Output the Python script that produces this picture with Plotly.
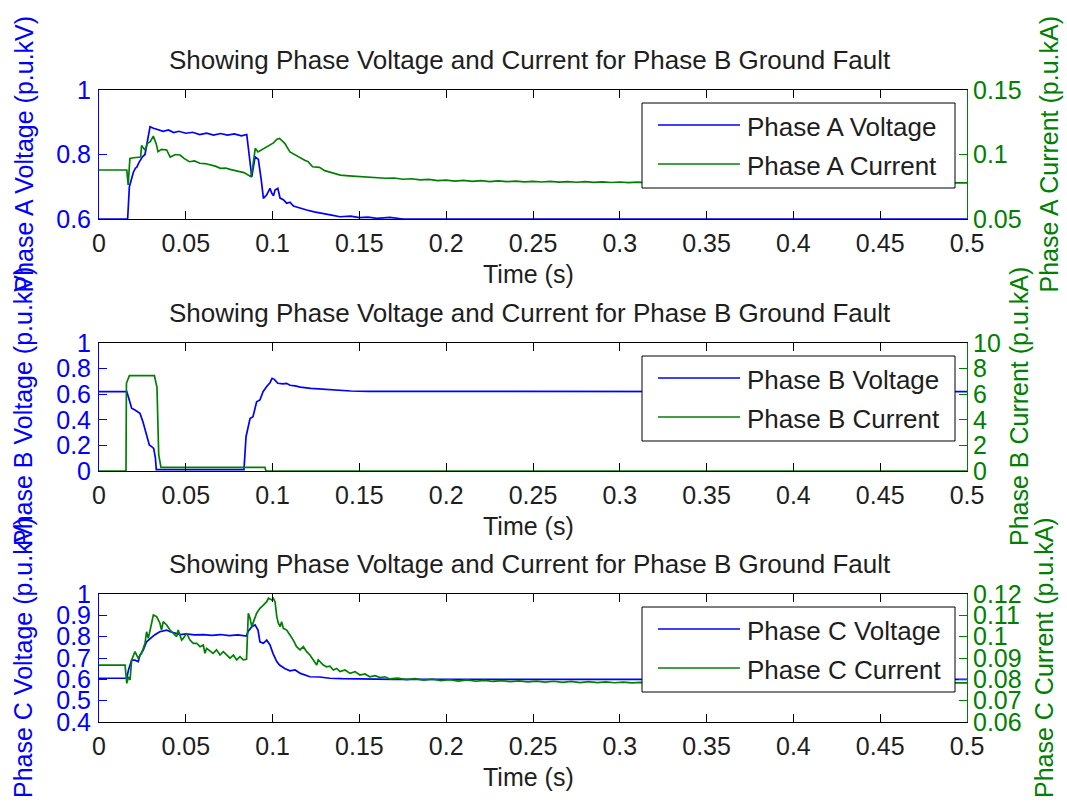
import plotly.graph_objects as go

# ---------------- data ----------------
time_ticks = [0, 0.05, 0.1, 0.15, 0.2, 0.25, 0.3, 0.35, 0.4, 0.45, 0.5]
time_tick_text = ["0", "0.05", "0.1", "0.15", "0.2", "0.25", "0.3", "0.35", "0.4", "0.45", "0.5"]

# Phase A
t_va = [0, 0.0165, 0.0175, 0.0188, 0.0198, 0.021, 0.0217, 0.023, 0.025, 0.0265, 0.0278, 0.0286, 0.0294,
        0.031, 0.033, 0.035, 0.037, 0.040, 0.043, 0.046, 0.050, 0.054, 0.058, 0.062, 0.066, 0.070,
        0.074, 0.078, 0.082, 0.0851, 0.0865, 0.088, 0.0899, 0.0918, 0.0935, 0.0947, 0.0966, 0.0985,
        0.0995, 0.1005, 0.1014, 0.103, 0.1043, 0.1062, 0.1081, 0.110, 0.112, 0.116, 0.1196, 0.124,
        0.1292, 0.134, 0.1388, 0.145, 0.150, 0.155, 0.160, 0.1676, 0.175, 0.5]
v_a = [0.6, 0.6, 0.70, 0.731, 0.745, 0.758, 0.76, 0.775, 0.793, 0.80, 0.845, 0.86, 0.886,
       0.882, 0.878, 0.876, 0.872, 0.876, 0.868, 0.872, 0.866, 0.869, 0.862, 0.866, 0.860, 0.865,
       0.860, 0.864, 0.858, 0.862, 0.80, 0.731, 0.793, 0.785, 0.72, 0.664, 0.675, 0.695,
       0.68, 0.672, 0.69, 0.695, 0.665, 0.66, 0.649, 0.652, 0.64, 0.633, 0.628, 0.622,
       0.618, 0.612, 0.607, 0.609, 0.604, 0.606, 0.602, 0.605, 0.6, 0.6]

t_ia = [0, 0.016, 0.0168, 0.0178, 0.020, 0.0225, 0.024, 0.0245, 0.0265, 0.028, 0.0295, 0.0313,
        0.033, 0.034, 0.036, 0.039, 0.041, 0.044, 0.0467, 0.049, 0.052, 0.055, 0.058, 0.061, 0.064,
        0.067, 0.070, 0.073, 0.0755, 0.078, 0.081, 0.0835, 0.086, 0.0875, 0.0885, 0.090, 0.0916,
        0.0935, 0.0955, 0.0985, 0.1005, 0.1025, 0.104, 0.1055, 0.107, 0.110, 0.113, 0.116, 0.1185,
        0.1205, 0.123, 0.127, 0.130, 0.132, 0.136, 0.139, 0.144, 0.150, 0.157, 0.165, 0.170, 0.175,
        0.180, 0.185, 0.190, 0.195, 0.200, 0.205, 0.210, 0.215, 0.220, 0.225, 0.230, 0.235, 0.240,
        0.245, 0.250, 0.255, 0.260, 0.265, 0.270, 0.275, 0.280, 0.285, 0.290, 0.295, 0.300, 0.305,
        0.310, 0.320, 0.350, 0.400, 0.450, 0.500]
i_a = [0.088, 0.088, 0.0764, 0.097, 0.0975, 0.098, 0.098, 0.107, 0.1035, 0.1087, 0.110, 0.1143,
       0.108, 0.1022, 0.104, 0.1035, 0.098, 0.100, 0.0996, 0.097, 0.0944, 0.095, 0.0932, 0.093, 0.092,
       0.091, 0.0893, 0.0895, 0.0885, 0.0875, 0.0867, 0.086, 0.0841, 0.0828, 0.090, 0.1048, 0.102,
       0.1035, 0.1048, 0.1074, 0.109, 0.1118, 0.1125, 0.1105, 0.1087, 0.102, 0.0996, 0.097, 0.0955,
       0.0944, 0.0905, 0.090, 0.0875, 0.0867, 0.085, 0.084, 0.0835, 0.0828, 0.0822, 0.0816, 0.0818, 0.0808,
       0.0812, 0.0803, 0.0807, 0.0798, 0.0802, 0.0794, 0.0799, 0.0792, 0.0797, 0.0790, 0.0795, 0.0789, 0.0794,
       0.0788, 0.0792, 0.0787, 0.0791, 0.0786, 0.0790, 0.0785, 0.0789, 0.0784, 0.0788, 0.0783, 0.0787, 0.0782,
       0.0786, 0.0781, 0.078, 0.078, 0.078, 0.078]

# Phase B
t_vb = [0, 0.016, 0.0169, 0.0188, 0.0207, 0.0236, 0.0253, 0.0265, 0.028, 0.029, 0.0303, 0.0315,
        0.0325, 0.033, 0.060, 0.0835, 0.0847, 0.087, 0.0887, 0.0908, 0.0927, 0.0945, 0.0966, 0.0985,
        0.0997, 0.101, 0.103, 0.106, 0.108, 0.110, 0.113, 0.116, 0.122, 0.127, 0.133, 0.139, 0.145,
        0.155, 0.5]
v_b = [0.62, 0.62, 0.58, 0.49, 0.477, 0.45, 0.385, 0.32, 0.255, 0.203, 0.19, 0.177,
       0.10, 0.01, 0.01, 0.01, 0.268, 0.41, 0.424, 0.54, 0.555, 0.62, 0.66, 0.69,
       0.724, 0.716, 0.685, 0.68, 0.685, 0.67, 0.665, 0.655, 0.645, 0.64, 0.635, 0.63, 0.625,
       0.622, 0.62]

t_ib = [0, 0.01555, 0.0158, 0.0175, 0.0319, 0.0334, 0.0344, 0.0357, 0.0956, 0.0962, 0.5]
i_b = [0, 0, 6.85, 7.45, 7.45, 6.54, 1.25, 0.29, 0.29, 0.0, 0.0]

# Phase C
t_vc = [0, 0.016, 0.017, 0.0188, 0.0207, 0.0226, 0.0236, 0.0255, 0.0274, 0.029, 0.032, 0.035,
        0.039, 0.041, 0.0438, 0.047, 0.050, 0.055, 0.060, 0.065, 0.070, 0.075, 0.080, 0.085, 0.0858,
        0.088, 0.0899, 0.0916, 0.0927, 0.0947, 0.0966, 0.0985, 0.1002, 0.1024, 0.104, 0.107, 0.110,
        0.113, 0.116, 0.1215, 0.127, 0.133, 0.140, 0.150, 0.170, 0.5]
v_c = [0.605, 0.605, 0.644, 0.69, 0.69, 0.683, 0.714, 0.7375, 0.776, 0.787, 0.808, 0.823,
       0.831, 0.823, 0.816, 0.81, 0.813, 0.808, 0.81, 0.806, 0.81, 0.805, 0.808, 0.803, 0.823,
       0.847, 0.855, 0.831, 0.776, 0.769, 0.784, 0.761, 0.722, 0.683, 0.667, 0.651, 0.64,
       0.644, 0.628, 0.612, 0.611, 0.605, 0.603, 0.601, 0.6, 0.6]

t_ic = [0, 0.015, 0.016, 0.017, 0.0179, 0.0188, 0.0207, 0.0226, 0.0245, 0.0265, 0.0274, 0.0284,
        0.0303, 0.0313, 0.0332, 0.0351, 0.036, 0.037, 0.039, 0.0409, 0.0428, 0.0447, 0.0456, 0.0476,
        0.0485, 0.0505, 0.0524, 0.0543, 0.0563, 0.0582, 0.0601, 0.061, 0.062, 0.064, 0.0657, 0.0677,
        0.0697, 0.0716, 0.0735, 0.0755, 0.0774, 0.0793, 0.0812, 0.0831, 0.085, 0.0855, 0.086, 0.087,
        0.088, 0.0908, 0.0927, 0.0947, 0.0966, 0.0976, 0.0995, 0.1004, 0.1014, 0.1024, 0.1033, 0.1043,
        0.1052, 0.1062, 0.1081, 0.110, 0.1119, 0.1138, 0.1158, 0.1177, 0.1196, 0.1215, 0.1234, 0.1254,
        0.1263, 0.1273, 0.1292, 0.1311, 0.133, 0.135, 0.1369, 0.1388, 0.1417, 0.1446, 0.1475, 0.1503,
        0.1532, 0.156, 0.159, 0.162, 0.1647, 0.1676, 0.172, 0.177, 0.182, 0.187, 0.192, 0.197, 0.202,
        0.207, 0.212, 0.217, 0.222, 0.227, 0.232, 0.237, 0.242, 0.247, 0.252, 0.257, 0.262, 0.267,
        0.272, 0.277, 0.282, 0.287, 0.292, 0.297, 0.302, 0.307, 0.312, 0.35, 0.4, 0.45, 0.5]
i_c = [0.0867, 0.0867, 0.0781, 0.0812, 0.0797, 0.089, 0.093, 0.0899, 0.0922, 0.0969, 0.1023, 0.0992,
       0.1063, 0.1102, 0.1094, 0.1063, 0.1031, 0.107, 0.1055, 0.1031, 0.1016, 0.100, 0.1031, 0.0984,
       0.0992, 0.1016, 0.0984, 0.0969, 0.0969, 0.0953, 0.0961, 0.0922, 0.0945, 0.093, 0.0922, 0.0938,
       0.0914, 0.093, 0.0914, 0.0899, 0.0914, 0.0891, 0.0906, 0.0891, 0.0894, 0.1047, 0.111, 0.1086,
       0.1047, 0.111, 0.1133, 0.1148, 0.1164, 0.118, 0.1172, 0.118, 0.1164, 0.1094, 0.1063, 0.1047,
       0.107, 0.1039, 0.1031, 0.1008, 0.0984, 0.0953, 0.0938, 0.0953, 0.093, 0.0914, 0.0891, 0.0867,
       0.0891, 0.0883, 0.0867, 0.0859, 0.0862, 0.0844, 0.0851, 0.0836, 0.0844, 0.0828, 0.0836, 0.082,
       0.0825, 0.0812, 0.0817, 0.0808, 0.0812, 0.0802, 0.0806, 0.0799, 0.0803, 0.0796, 0.0801, 0.0794, 0.0798,
       0.0792, 0.0797, 0.0791, 0.0795, 0.0790, 0.0794, 0.0789, 0.0793, 0.0788, 0.0792, 0.0787, 0.0791, 0.0786,
       0.0790, 0.0785, 0.0789, 0.0785, 0.0788, 0.0784, 0.0787, 0.0783, 0.0786, 0.0783, 0.0783, 0.0783, 0.0783]

# axis ranges and ticks per panel
volt_ranges = [[0.6, 1.0], [0.0, 1.0], [0.4, 1.0]]
volt_ticks = [[0.6, 0.8, 1.0],
              [0, 0.2, 0.4, 0.6, 0.8, 1.0],
              [0.4, 0.5, 0.6, 0.7, 0.8, 0.9, 1.0]]
volt_tick_text = [["0.6", "0.8", "1"],
                  ["0", "0.2", "0.4", "0.6", "0.8", "1"],
                  ["0.4", "0.5", "0.6", "0.7", "0.8", "0.9", "1"]]
curr_ranges = [[0.05, 0.15], [0, 10], [0.06, 0.12]]
curr_ticks = [[0.05, 0.1, 0.15],
              [0, 2, 4, 6, 8, 10],
              [0.06, 0.07, 0.08, 0.09, 0.1, 0.11, 0.12]]
curr_tick_text = [["0.05", "0.1", "0.15"],
                  ["0", "2", "4", "6", "8", "10"],
                  ["0.06", "0.07", "0.08", "0.09", "0.1", "0.11", "0.12"]]

phases = ["A", "B", "C"]
volt_series = [(t_va, v_a), (t_vb, v_b), (t_vc, v_c)]
curr_series = [(t_ia, i_a), (t_ib, i_b), (t_ic, i_c)]

title_text = "Showing Phase Voltage and Current for Phase B Ground Fault"

# ---------------- styling ----------------
W, H = 1067, 808
BLUE = "#0000FF"
GREEN = "#008000"
DARK = "#1e1e1e"
FONT = "Liberation Sans"
FS = 25        # tick labels, axis titles
FS_BIG = 26    # panel titles and legend entries

PLOT_L, PLOT_R = 99, 967
PANELS = [(90, 219), (343, 471), (594, 722)]   # top / bottom pixel rows
RIGHT_TITLE_X = [1048, 1019, 1044]


def fx(px):
    return px / W


def fy(py):
    return 1 - py / H


fig = go.Figure()
layout = dict(
    width=W, height=H,
    margin=dict(l=0, r=0, t=0, b=0),
    paper_bgcolor="white", plot_bgcolor="white",
    font=dict(family=FONT, size=FS, color=DARK),
    showlegend=False,
)
annotations = []
shapes = []

for k in range(3):
    top, bot = PANELS[k]
    xa = "x" if k == 0 else f"x{k + 1}"
    yl = f"y{2 * k + 1}" if k else "y"
    yr = f"y{2 * k + 2}"
    xkey = "xaxis" if k == 0 else f"xaxis{k + 1}"
    ylkey = "yaxis" if k == 0 else f"yaxis{2 * k + 1}"
    yrkey = f"yaxis{2 * k + 2}"

    tv, vv = volt_series[k]
    tc, cc = curr_series[k]
    fig.add_trace(go.Scatter(x=tv, y=vv, xaxis=xa, yaxis=yl, mode="lines",
                             line=dict(color=BLUE, width=1.7),
                             name=f"Phase {phases[k]} Voltage"))
    fig.add_trace(go.Scatter(x=tc, y=cc, xaxis=xa, yaxis=yr, mode="lines",
                             line=dict(color=GREEN, width=1.7),
                             name=f"Phase {phases[k]} Current"))

    layout[xkey] = dict(
        domain=[fx(PLOT_L), fx(PLOT_R)], anchor=yl, range=[0, 0.5],
        tickmode="array", tickvals=time_ticks, ticktext=time_tick_text,
        ticks="inside", ticklen=8, tickcolor="black", tickwidth=1,
        showline=True, linecolor="black", linewidth=1, mirror="ticks",
        showgrid=False, zeroline=False, automargin=False,
        tickfont=dict(family=FONT, size=FS, color=DARK),
        ticklabelstandoff=2,
    )
    layout[ylkey] = dict(
        domain=[fy(bot), fy(top)], anchor=xa, range=volt_ranges[k],
        tickmode="array", tickvals=volt_ticks[k], ticktext=volt_tick_text[k],
        ticks="inside", ticklen=8, tickcolor=BLUE, tickwidth=1,
        showline=True, linecolor=BLUE, linewidth=1,
        showgrid=False, zeroline=False, automargin=False,
        tickfont=dict(family=FONT, size=FS, color=BLUE),
        ticklabelstandoff=2,
    )
    layout[yrkey] = dict(
        overlaying=yl, side="right", anchor=xa, range=curr_ranges[k],
        tickmode="array", tickvals=curr_ticks[k], ticktext=curr_tick_text[k],
        ticks="inside", ticklen=8, tickcolor=GREEN, tickwidth=1,
        showline=True, linecolor=GREEN, linewidth=1,
        showgrid=False, zeroline=False, automargin=False,
        tickfont=dict(family=FONT, size=FS, color=GREEN),
    )

    mid = (top + bot) / 2
    # panel title
    annotations.append(dict(text=title_text, xref="paper", yref="paper",
                            x=fx(530), y=fy(top - 30), xanchor="center", yanchor="middle",
                            showarrow=False, font=dict(size=FS_BIG, color=DARK)))
    # time label
    annotations.append(dict(text="Time (s)", xref="paper", yref="paper",
                            x=fx(528), y=fy(bot + 55), xanchor="center", yanchor="middle",
                            showarrow=False, font=dict(size=FS, color=DARK)))
    # left / right axis titles
    annotations.append(dict(text=f"Phase {phases[k]} Voltage (p.u.kV)", xref="paper", yref="paper",
                            x=fx(23), y=fy(mid), xanchor="center", yanchor="middle", textangle=-90,
                            showarrow=False, font=dict(size=FS, color=BLUE)))
    annotations.append(dict(text=f"Phase {phases[k]} Current (p.u.kA)", xref="paper", yref="paper",
                            x=fx(RIGHT_TITLE_X[k]), y=fy(mid), xanchor="center", yanchor="middle",
                            textangle=-90, showarrow=False, font=dict(size=FS, color=GREEN)))

    # legend box
    lt = top + 13
    shapes.append(dict(type="rect", xref="paper", yref="paper", layer="above",
                       x0=fx(642), x1=fx(955), y0=fy(lt), y1=fy(lt + 85),
                       line=dict(color="black", width=1), fillcolor="white"))
    for j, (label, col) in enumerate([(f"Phase {phases[k]} Voltage", BLUE),
                                      (f"Phase {phases[k]} Current", GREEN)]):
        ly = lt + 22 + 39 * j
        shapes.append(dict(type="line", xref="paper", yref="paper", layer="above",
                           x0=fx(658), x1=fx(740), y0=fy(ly), y1=fy(ly),
                           line=dict(color=col, width=1.7)))
        annotations.append(dict(text=label, xref="paper", yref="paper",
                                x=fx(745), y=fy(ly + 2), xanchor="left", yanchor="middle",
                                showarrow=False, font=dict(size=FS_BIG, color=DARK)))

layout["annotations"] = annotations
layout["shapes"] = shapes
fig.update_layout(**layout)

fig.write_html("out.html")
